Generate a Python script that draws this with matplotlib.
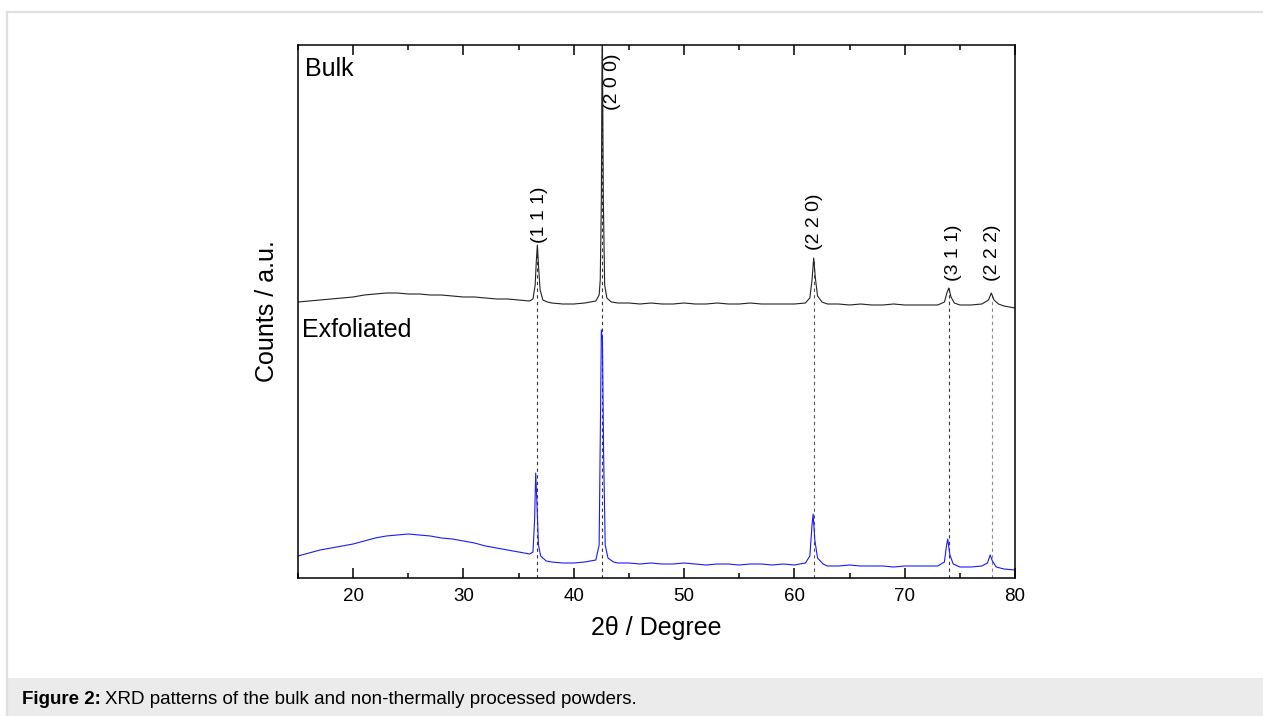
import matplotlib
matplotlib.use("Agg")
import matplotlib.pyplot as plt
from matplotlib.patches import Rectangle
from matplotlib.lines import Line2D
from matplotlib.ticker import MultipleLocator

plt.rcParams["font.family"] = ["Liberation Sans", "DejaVu Sans"]

# Bulk pattern (2theta, counts a.u.)
bulk_2theta = [15, 16, 17, 18, 19, 20, 21, 22, 23, 24, 25, 26, 27, 28, 29, 30,
               31, 32, 33, 34, 35, 36, 36.3, 36.5, 36.6, 36.7, 36.8, 36.95, 37.2,
               37.6, 38, 39, 40, 41, 42, 42.3, 42.4, 42.5, 42.58, 42.68, 42.8,
               43.0, 43.4, 44, 45, 46, 47, 48, 49, 50, 51, 52, 53, 54, 55, 56, 57,
               58, 59, 60, 61, 61.4, 61.6, 61.75, 61.9, 62.1, 62.5, 63, 64, 65,
               66, 67, 68, 69, 70, 71, 72, 73, 73.6, 73.85, 74.0, 74.2, 74.5, 75,
               76, 77, 77.6, 77.85, 78.1, 78.5, 79, 80]
bulk_counts = [276, 277, 278, 279, 280, 281, 283, 284, 285, 285, 284, 284, 283,
               283, 282, 281, 281, 280, 279, 279, 278, 277, 279, 293, 316, 333,
               313, 288, 278, 276, 275, 274, 274, 275, 277, 283, 298, 378, 560,
               378, 293, 280, 276, 275, 275, 274, 275, 274, 274, 275, 274, 274,
               275, 274, 274, 275, 274, 274, 274, 274, 275, 280, 298, 320, 300,
               282, 276, 274, 274, 273, 274, 273, 273, 274, 273, 273, 273, 273,
               276, 286, 290, 281, 275, 273, 273, 274, 278, 285, 278, 274, 272,
               270]

# Exfoliated pattern
exf_2theta = [15, 16, 17, 18, 19, 20, 21, 22, 23, 24, 25, 26, 27, 28, 29, 30,
              31, 32, 33, 34, 35, 36, 36.3, 36.45, 36.55, 36.65, 36.8, 37.0, 37.5,
              38, 39, 40, 41, 42, 42.3, 42.42, 42.5, 42.6, 42.7, 42.85, 43.1,
              43.6, 44, 45, 46, 47, 48, 49, 50, 51, 52, 53, 54, 55, 56, 57, 58,
              59, 60, 61, 61.4, 61.6, 61.7, 61.85, 62.1, 62.6, 63, 64, 65, 66,
              67, 68, 69, 70, 71, 72, 73, 73.6, 73.8, 73.9, 74.1, 74.4, 75, 76,
              77, 77.5, 77.75, 77.95, 78.3, 79, 80]
exf_counts = [22, 25, 28, 30, 32, 34, 37, 40, 42, 43, 44, 43, 42, 40, 39, 37,
              35, 32, 30, 28, 26, 24, 26, 58, 105, 78, 33, 22, 17, 16, 15, 15,
              16, 18, 33, 158, 248, 238, 128, 33, 20, 16, 15, 15, 14, 15, 14, 14,
              15, 14, 13, 14, 14, 13, 14, 14, 13, 14, 13, 15, 22, 53, 64, 38, 20,
              14, 12, 12, 13, 12, 12, 12, 11, 12, 12, 12, 12, 16, 33, 39, 23, 14,
              11, 11, 12, 15, 23, 17, 11, 9, 8]

# Reflections: position, top of dashed guide, label x, label bottom
hkl_labels = ["(1 1 1)", "(2 0 0)", "(2 2 0)", "(3 1 1)", "(2 2 2)"]
hkl_pos = [36.7, 42.6, 61.75, 74.0, 77.9]
hkl_top = [333, 533, 320, 290, 285]
hkl_label_x = [36.9, 43.5, 61.8, 74.4, 78.0]
hkl_label_y = [335, 468, 328, 297, 297]
hkl_colors = ["#333333", "#333333", "#555555", "#333333", "#888888"]

fig = plt.figure(figsize=(12.63, 7.16), dpi=100)

# page frame and caption band
fig.add_artist(Line2D([7 / 1263, 1], [1 - 11.5 / 716] * 2, color="#e0e0e0", lw=1.6))
fig.add_artist(Line2D([7 / 1263] * 2, [0, 1 - 11.5 / 716], color="#e0e0e0", lw=1.6))
fig.add_artist(Rectangle((8 / 1263, 0), 1, 38 / 716, color="#ebebeb", lw=0))

ax = fig.add_axes([298 / 1263, (716 - 578) / 716, 717 / 1263, 533 / 716])

for x, top, c in zip(hkl_pos, hkl_top, hkl_colors):
    ax.plot([x, x], [0, top], ls=(0, (3, 3)), color=c, lw=0.8)

ax.plot(bulk_2theta, bulk_counts, color="#222222", lw=0.8)
ax.plot(exf_2theta, exf_counts, color="#1a1aff", lw=0.8)

for lab, x, y in zip(hkl_labels, hkl_label_x, hkl_label_y):
    ax.text(x, y, lab, rotation=90, ha="center", va="bottom", fontsize=14)

ax.text(0.01, 0.978, "Bulk", transform=ax.transAxes, fontsize=18, va="top")
ax.text(0.006, 0.488, "Exfoliated", transform=ax.transAxes, fontsize=18, va="top")

ax.set_xlim(15, 80)
ax.set_ylim(0, 533)
ax.set_yticks([])
ax.xaxis.set_major_locator(MultipleLocator(10))
ax.xaxis.set_minor_locator(MultipleLocator(5))
ax.tick_params(axis="x", which="both", direction="in", top=True, width=1.1,
               labelsize=13.5, pad=7)
ax.tick_params(axis="x", which="major", length=7)
ax.tick_params(axis="x", which="minor", length=3.5)
for sp in ax.spines.values():
    sp.set_linewidth(1.1)

ax.set_xlabel("2\u03b8 / Degree", fontsize=18, labelpad=8)
ax.set_ylabel("Counts / a.u.", fontsize=18, labelpad=14)

# caption: bold prefix followed by normal text
cap_y = 1 - 700 / 716
t1 = fig.text(22 / 1263, cap_y, "Figure 2:", fontsize=13.5, fontweight="bold", va="center")
fig.canvas.draw()
bb = t1.get_window_extent()
fig.text((bb.x1 + 4) / 1263, cap_y,
         "XRD patterns of the bulk and non-thermally processed powders.",
         fontsize=13.5, va="center")

fig.savefig("out.png", dpi=100)
